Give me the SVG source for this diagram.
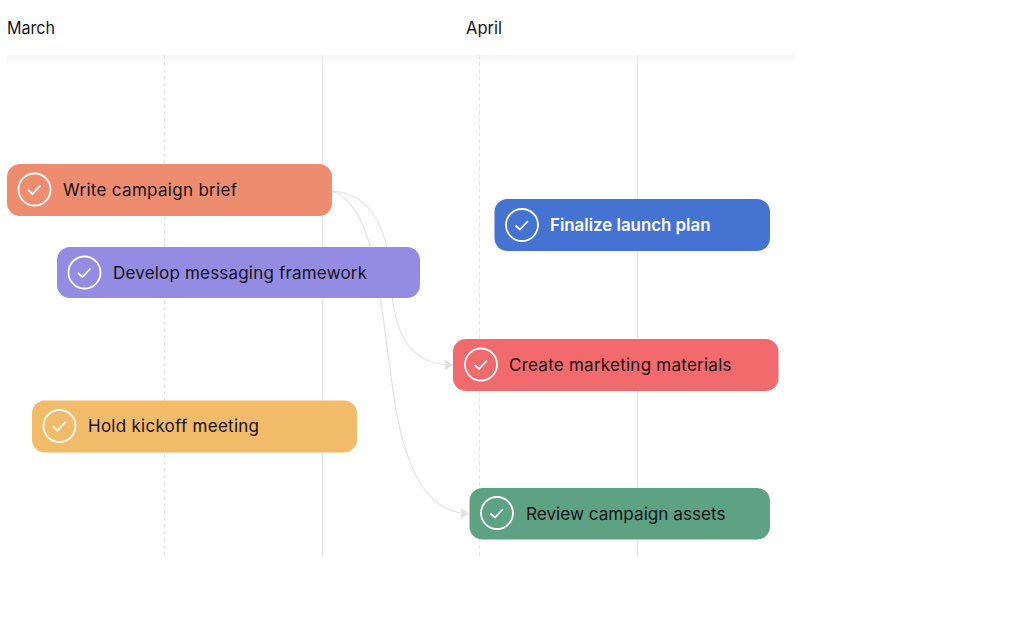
<svg xmlns="http://www.w3.org/2000/svg" width="1021" height="643" viewBox="0 0 1021 643">
<defs>
<linearGradient id="hdr" x1="0" y1="0" x2="0" y2="1"><stop offset="0" stop-color="#f6f6f6"/><stop offset="1" stop-color="#ffffff"/></linearGradient>
<marker id="arr" markerUnits="userSpaceOnUse" markerWidth="9" markerHeight="14" refX="8" refY="7" orient="auto"><path d="M0 1.500 L8 7 L0 12.500 Z" fill="#dfe1e4"/></marker>
<symbol id="chk" overflow="visible"><circle cx="0" cy="0" r="16" fill="none" stroke="#fff" stroke-width="1.8"/><path d="M-6.500 0.500 L-2 4.500 L6 -4" fill="none" stroke="#fff" stroke-width="1.8"/></symbol>
</defs>
<style>
text{font-family:"Inter","Noto Sans","Liberation Sans",sans-serif;font-size:17px;fill:#151218}
.grid{stroke:#e4e4e6;stroke-width:1;fill:none}
.dash{stroke-dasharray:4 3}
.c{fill:none;stroke:#dfe1e4;stroke-width:1.1}
</style>
<rect width="1021" height="643" fill="#fff"/>
<text x="7" y="34" textLength="48" lengthAdjust="spacingAndGlyphs">March</text>
<text x="466" y="34" textLength="36" lengthAdjust="spacingAndGlyphs">April</text>
<rect x="7" y="55" width="787" height="11" fill="url(#hdr)"/>
<g id="grid">
<path class="grid dash" d="M164.500 55V556"/>
<path class="grid" d="M322.500 55V556"/>
<path class="grid dash" d="M479.500 55V556"/>
<path class="grid" d="M637.500 55V556"/>
</g>
<g id="connectors">
<path class="c" d="M332 191C368 193 386 225 389.500 265C392 320 400 365 453 365" marker-end="url(#arr)"/>
<path class="c" d="M332 191C352 197 365 225 371 250C384 305 389 370 396 410C406 465 425 513 469 513.500" marker-end="url(#arr)"/>
</g>
<g id="write-campaign-brief"><rect x="7" y="164" width="325" height="52" rx="13" fill="#ee8c70"/><use href="#chk" x="34.500" y="189.500"/><text x="63" y="196" textLength="174">Write campaign brief</text></g>
<g id="develop-messaging-framework"><rect x="57" y="247" width="363" height="51" rx="13" fill="#938ce2"/><use href="#chk" x="84.500" y="272.500"/><text x="113" y="279" textLength="254">Develop messaging framework</text></g>
<g id="finalize-launch-plan"><rect x="494.500" y="199" width="275.500" height="52" rx="13" fill="#4573d2"/><use href="#chk" x="522" y="225"/><text x="550" y="231" textLength="160.500" lengthAdjust="spacingAndGlyphs" style="fill:#fff;font-weight:600">Finalize launch plan</text></g>
<g id="create-marketing-materials"><rect x="453" y="339" width="325.500" height="52" rx="13" fill="#f26a6b"/><use href="#chk" x="481" y="364.500"/><text x="509" y="371" textLength="222.500">Create marketing materials</text></g>
<g id="hold-kickoff-meeting"><rect x="32" y="400.500" width="325" height="52" rx="13" fill="#f2bb69"/><use href="#chk" x="59.500" y="426"/><text x="88" y="432" textLength="171">Hold kickoff meeting</text></g>
<g id="review-campaign-assets"><rect x="469.500" y="488" width="300.500" height="51.500" rx="13" fill="#5da283"/><use href="#chk" x="497" y="513"/><text x="526" y="520" textLength="199.500" lengthAdjust="spacingAndGlyphs">Review campaign assets</text></g>
</svg>
